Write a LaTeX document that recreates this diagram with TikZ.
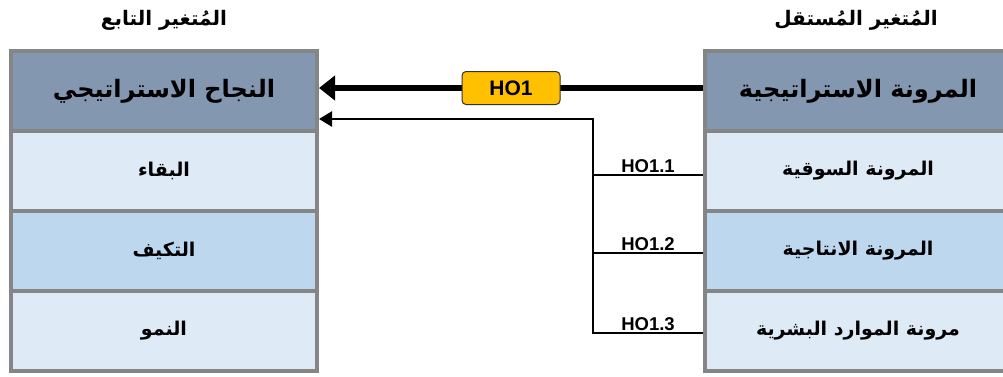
\documentclass[tikz,border=0pt]{standalone}
\usepackage{fontspec}
\setmainfont{Liberation Sans}
\newfontfamily\arabicfont[Script=Arabic]{DejaVu Sans}
\TeXXeTstate=1
\usetikzlibrary{positioning,arrows.meta}

\definecolor{headblue}{HTML}{8497B0}
\definecolor{rowlight}{HTML}{DEEBF7}
\definecolor{rowmid}{HTML}{BDD7EE}
\definecolor{hoyellow}{HTML}{FFC000}
\definecolor{cellgray}{HTML}{858585}

\newcommand{\artxt}[1]{{\arabicfont\bfseries\beginR #1\endR}}

\tikzset{
  cell/.style={draw=cellgray, line width=4pt, minimum width=306pt, minimum height=80pt, inner sep=0pt},
  headcell/.style={cell, fill=headblue, font=\fontsize{24}{28}\selectfont},
  rowcell/.style={cell, fill=rowlight, font=\fontsize{19}{22}\selectfont},
  midcell/.style={rowcell, fill=rowmid},
  vartitle/.style={font=\fontsize{20}{24}\selectfont, inner sep=0pt},
  hobox/.style={draw=black!80, fill=hoyellow, rounded corners=4pt, line width=1pt,
    minimum width=98pt, minimum height=33pt, inner sep=0pt, font=\bfseries\fontsize{21}{24}\selectfont},
  holabel/.style={font=\bfseries\fontsize{18.5}{21}\selectfont, inner sep=1pt},
  bigarrow/.style={line width=6.5pt, -{Triangle[length=16pt,width=24pt]}},
  smallarrow/.style={line width=2.6pt, -{Triangle[length=13pt,width=15pt]}},
  branch/.style={line width=2.6pt}
}

\begin{document}
\begin{tikzpicture}[x=1pt,y=-1pt]
  \useasboundingbox (0,0) rectangle (1003,376);
  \clip (0,0) rectangle (1003,376);
  % dependent variable
  \node[headcell] (hl) at (164,91) {\artxt{النجاح الاستراتيجي}};
  \node[rowcell] (l1) at (164,171) {\artxt{البقاء}};
  \node[midcell] (l2) at (164,251) {\artxt{التكيف}};
  \node[rowcell] (l3) at (164,331) {\artxt{النمو}};
  \node[vartitle] (tl) at (164,20) {\artxt{المُتغير التابع}};
  % independent variable
  \node[headcell] (hr) at (858,91) {\artxt{المرونة الاستراتيجية}};
  \node[rowcell] (r1) at (858,171) {\artxt{المرونة السوقية}};
  \node[midcell] (r2) at (858,251) {\artxt{المرونة الانتاجية}};
  \node[rowcell] (r3) at (858,331) {\artxt{مرونة الموارد البشرية}};
  \node[vartitle] (tr) at (856,20) {\artxt{المُتغير المُستقل}};
  % arrows
  \coordinate (bus) at (593,119);
  \draw[bigarrow] ([yshift=3pt]hr.west) -- ([yshift=3pt]hl.east)
    node[hobox, midway] (ho) {HO1};
  \draw[smallarrow] ([yshift=-3pt]r3.west -| bus) -- (bus) -- (bus -| hl.east);
  \draw[branch] ([yshift=-4pt]r1.west) -- ([yshift=-4pt]r1.west -| bus)
    node[holabel, midway, above] (h11) {HO1.1};
  \draw[branch] ([yshift=-2pt]r2.west) -- ([yshift=-2pt]r2.west -| bus)
    node[holabel, midway, above] (h12) {HO1.2};
  \draw[branch] ([yshift=-2pt]r3.west) -- ([yshift=-2pt]r3.west -| bus)
    node[holabel, midway, above] (h13) {HO1.3};
\end{tikzpicture}
\end{document}
